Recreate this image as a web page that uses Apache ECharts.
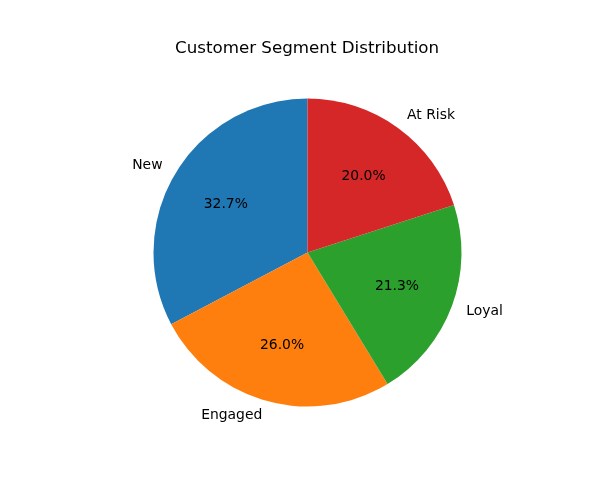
<!DOCTYPE html>
<html>
<head>
<meta charset="utf-8">
<script src="https://cdn.jsdelivr.net/npm/echarts@6/dist/echarts.min.js"></script>
<style>
  html, body { margin: 0; padding: 0; background: #fff; }
  #chart { width: 600px; height: 500px; }
</style>
</head>
<body>
<div id="chart"></div>
<script>
// chart data
var segments = ['New', 'Engaged', 'Loyal', 'At Risk'];
var shares = [32.7, 26.0, 21.3, 20.0];
var colors = ['#1f77b4', '#ff7f0e', '#2ca02c', '#d62728'];

var R = 154; // pie radius in px
var font = 'DejaVu Sans';

var pieData = [];
var pctData = [];
for (var i = 0; i < segments.length; i++) {
  pieData.push({ name: segments[i], value: shares[i], itemStyle: { color: colors[i] } });
  pctData.push({ name: segments[i], value: shares[i] });
}

var myChart = echarts.init(document.getElementById('chart'));
myChart.setOption({
  animation: false,
  title: {
    text: 'Customer Segment Distribution',
    left: 170,
    top: 35,
    textStyle: { fontFamily: font, fontSize: 16.7, fontWeight: 'normal', color: '#000' }
  },
  series: [
    {
      // the slices with their outer name labels
      type: 'pie',
      center: [307.5, 252.5],
      radius: [0, R],
      startAngle: 90,
      clockwise: false,
      avoidLabelOverlap: false,
      silent: true,
      data: pieData,
      label: {
        show: true,
        position: 'outside',
        distanceToLabelLine: 0,
        fontFamily: font,
        fontSize: 13.9,
        color: '#000',
        formatter: '{b}'
      },
      labelLine: { show: false, length: R * 0.1, length2: 0 },
      emphasis: { disabled: true }
    },
    {
      // invisible ring only used to place percent labels at 0.6 R
      type: 'pie',
      center: [307.5, 253.5],
      radius: [0, R * 1.2],
      startAngle: 90,
      clockwise: false,
      silent: true,
      data: pctData,
      itemStyle: { color: 'rgba(0,0,0,0)' },
      label: {
        show: true,
        position: 'inside',
        fontFamily: font,
        fontSize: 13.9,
        color: '#000',
        formatter: function (p) { return p.value.toFixed(1) + '%'; }
      },
      labelLine: { show: false },
      emphasis: { disabled: true }
    }
  ]
});
</script>
</body>
</html>
